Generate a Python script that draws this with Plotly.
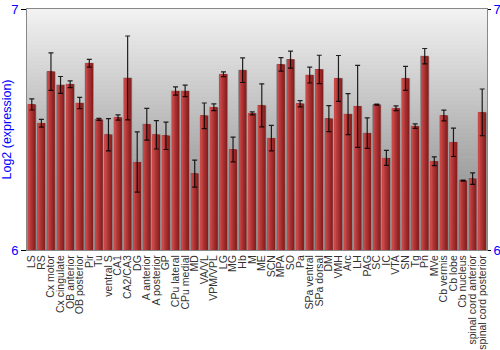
import plotly.graph_objects as go

regions = ["LS", "RS", "Cx motor", "Cx cingulate", "OB anterior", "OB posterior", "Pir", "Tu",
           "ventral S", "CA1", "CA2/CA3", "DG", "A anterior", "A posterior", "GP", "CPu lateral",
           "CPu medial", "MD", "VA/VL", "VPM/VPL", "LG", "MG", "Hb", "M", "ME", "SCN", "MPA", "SO",
           "Pa", "SPa ventral", "SPa dorsal", "DM", "VMH", "Arc", "LH", "PAG", "SC", "IC", "VTA",
           "SN", "Tg", "Pn", "MVe", "Cb vermis", "Cb lobe", "Cb nucleus", "spinal cord anterior",
           "spinal cord posterior"]
expression = [6.604, 6.526, 6.740, 6.685, 6.688, 6.610, 6.775, 6.542,
              6.478, 6.550, 6.714, 6.365, 6.522, 6.478, 6.474, 6.660,
              6.660, 6.317, 6.557, 6.592, 6.729, 6.417, 6.746, 6.567, 6.600, 6.464, 6.770, 6.790,
              6.607, 6.726, 6.749, 6.545, 6.712, 6.564, 6.596, 6.485, 6.603, 6.382, 6.588,
              6.712, 6.514, 6.804, 6.368, 6.558, 6.447, 6.288, 6.296,
              6.571]
error = [0.023, 0.016, 0.078, 0.035, 0.014, 0.023, 0.016, 0.004,
         0.067, 0.011, 0.174, 0.125, 0.066, 0.059, 0.057, 0.017,
         0.024, 0.056, 0.053, 0.014, 0.010, 0.051, 0.051, 0.006, 0.089, 0.053, 0.028, 0.035,
         0.013, 0.033, 0.059, 0.054, 0.095, 0.085, 0.170, 0.063, 0.002, 0.031, 0.010,
         0.050, 0.009, 0.032, 0.018, 0.022, 0.059, 0.002, 0.024,
         0.097]
y_ticks = [6, 7]

BAR_W = 0.86
fig = go.Figure()

# base bar with outline
fig.add_trace(go.Bar(x=regions, y=expression, width=BAR_W, base=0,
                     marker=dict(color="#801818", line=dict(color="rgba(150,150,150,0.9)", width=1)),
                     hoverinfo="skip", showlegend=False))

# horizontal gradient layers (light on the left, dark on the right)
dark = (128, 24, 24)
light = (200, 72, 72)
N = 10
for k in range(1, N):
    t = k / (N - 1)
    c = tuple(int(dark[i] + (light[i] - dark[i]) * t) for i in range(3))
    w = BAR_W * (1 - k / N) - 0.02
    fig.add_trace(go.Bar(x=regions, y=expression, width=w, offset=-BAR_W / 2 + 0.06,
                         marker=dict(color="rgb(%d,%d,%d)" % c, line=dict(width=0)),
                         hoverinfo="skip", showlegend=False))

# error bars
fig.add_trace(go.Scatter(x=regions, y=expression, mode="markers",
                         marker=dict(size=1, opacity=0),
                         error_y=dict(type="data", array=error, visible=True,
                                      color="rgba(0,0,0,0.85)", thickness=1.2, width=2.5),
                         hoverinfo="skip", showlegend=False))

# invisible trace for the right axis
fig.add_trace(go.Scatter(x=[regions[0]], y=[6.5], yaxis="y2", mode="markers",
                         marker=dict(opacity=0), hoverinfo="skip", showlegend=False))

# background vertical gradient
shapes = []
NB = 60
top = (242, 242, 242)
bot = (122, 122, 122)
for i in range(NB):
    t = i / NB
    c = tuple(int(top[j] + (bot[j] - top[j]) * t) for j in range(3))
    shapes.append(dict(type="rect", xref="x domain", yref="y domain",
                       x0=0, x1=1, y0=1 - (i + 1) / NB, y1=1 - i / NB + 0.002,
                       fillcolor="rgb(%d,%d,%d)" % c, line=dict(width=0), layer="below"))

fig.update_layout(
    width=500, height=350,
    margin=dict(l=27, r=13, t=9, b=100),
    barmode="overlay",
    paper_bgcolor="white", plot_bgcolor="#cccccc",
    shapes=shapes,
    font=dict(family="Liberation Sans, Arial, sans-serif"),
    xaxis=dict(type="category", tickangle=-90, tickfont=dict(size=10.5, color="#333"),
               tickmode="linear", dtick=1, tick0=0, automargin=False,
               showline=True, mirror=True, linecolor="#888", linewidth=1,
               showgrid=False, ticks="", range=[-0.5, len(regions) - 0.5]),
    yaxis=dict(range=[6, 7], tickvals=y_ticks, tickfont=dict(size=13, color="blue"),
               title=dict(text="Log2 (expression)", font=dict(size=12.5, color="blue"), standoff=2),
               automargin=False,
               showgrid=False, zeroline=False, showline=True, linecolor="#888",
               ticks="outside", ticklen=5, tickcolor="black"),
    yaxis2=dict(range=[6, 7], tickvals=y_ticks, overlaying="y", side="right",
                tickfont=dict(size=13, color="blue"), showgrid=False, zeroline=False,
                automargin=False,
                showline=True, linecolor="#888", ticks="outside", ticklen=3, tickcolor="black"),
)

fig.write_html("out.html")
